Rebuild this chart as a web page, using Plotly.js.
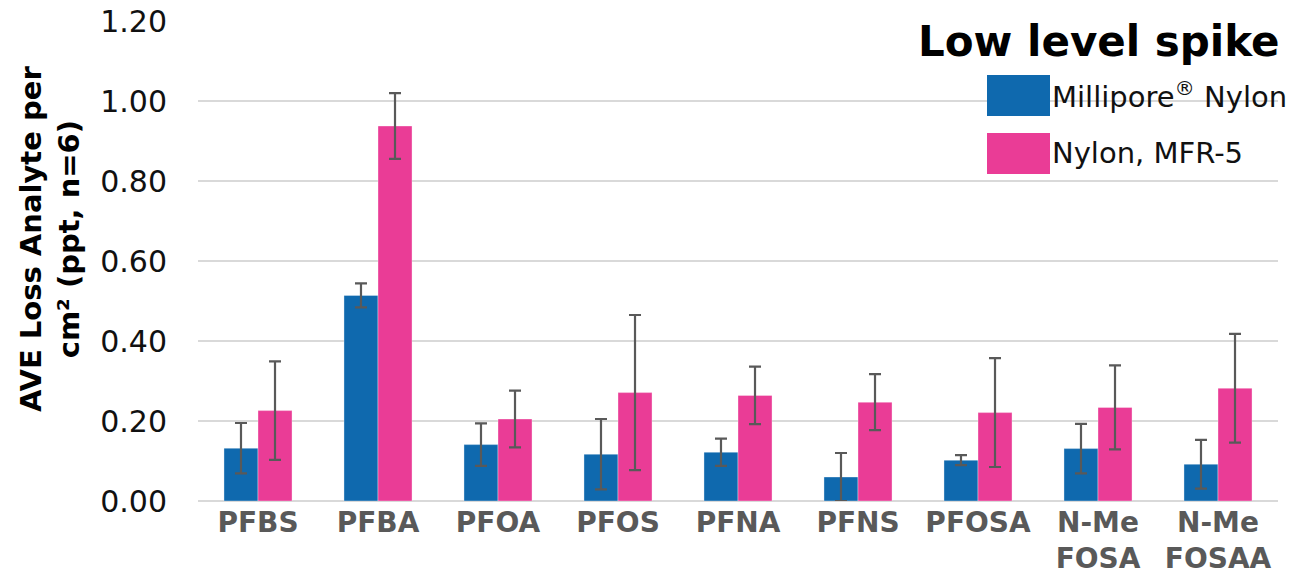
<!DOCTYPE html>
<html>
<head>
<meta charset="utf-8">
<script src="https://cdn.plot.ly/plotly-3.0.1.min.js"></script>
<style>
  html, body { margin: 0; padding: 0; background: #fff; }
  #chart { width: 1291px; height: 574px; }
</style>
</head>
<body>
<div id="chart"></div>
<script>
// Average analyte loss per cm² of filter, low level spike (n=6), with standard deviations
const analytes = ['PFBS', 'PFBA', 'PFOA', 'PFOS', 'PFNA', 'PFNS', 'PFOSA', 'N-Me<br>FOSA', 'N-Me<br>FOSAA'];
const milliporeNylon   = [0.132, 0.514, 0.141, 0.117, 0.122, 0.060, 0.102, 0.131, 0.092];
const milliporeNylonSD = [0.063, 0.030, 0.053, 0.088, 0.034, 0.060, 0.0125, 0.062, 0.061];
const nylonMFR5        = [0.226, 0.9375, 0.205, 0.271, 0.264, 0.247, 0.221, 0.234, 0.282];
const nylonMFR5SD      = [0.123, 0.082, 0.071, 0.194, 0.072, 0.070, 0.136, 0.105, 0.136];
const seriesNames = ['Millipore<sup>®</sup> Nylon', 'Nylon, MFR-5'];
const chartTitle = 'Low level spike';
const yTitle = 'AVE Loss Analyte per<br>cm² (ppt, n=6)';

const BLUE = '#0f69ae';
const PINK = '#ea3c96';
const ERR = '#595959';
const FONT = 'DejaVu Sans, Verdana, sans-serif';

// plot-area geometry in pixels
const W = 1291, H = 574;
const M = { l: 198, r: 13, t: 21, b: 73 };
const PW = W - M.l - M.r, PH = H - M.t - M.b;
const px = x => (x - M.l) / PW;          // pixel x -> paper x
const py = y => (H - M.b - y) / PH;      // pixel y -> paper y

function barTrace(name, values, sd, color) {
  return {
    type: 'bar',
    name: name,
    x: analytes,
    y: values,
    marker: { color: color, line: { color: 'rgba(255,255,255,0.35)', width: 1 } },
    error_y: { type: 'data', array: sd, visible: true, color: ERR, thickness: 2.2, width: 6 },
    hoverinfo: 'skip'
  };
}

const traces = [
  barTrace(seriesNames[0], milliporeNylon, milliporeNylonSD, BLUE),
  barTrace(seriesNames[1], nylonMFR5, nylonMFR5SD, PINK)
];

// legend drawn as swatches + labels
const swatches = [
  { y0: 75, y1: 116, color: BLUE, label: seriesNames[0] },
  { y0: 133, y1: 174, color: PINK, label: seriesNames[1] }
];
const shapes = swatches.map(s => ({
  type: 'rect', xref: 'paper', yref: 'paper',
  x0: px(987), x1: px(1050), y0: py(s.y1), y1: py(s.y0),
  fillcolor: s.color, line: { width: 0 }, layer: 'above'
}));
const annotations = swatches.map(s => ({
  xref: 'paper', yref: 'paper', x: px(1050), y: py((s.y0 + s.y1) / 2),
  xanchor: 'left', yanchor: 'middle', showarrow: false,
  text: s.label, font: { family: FONT, size: 29, color: '#111' }
}));
annotations.push({
  xref: 'paper', yref: 'paper', x: px(1282), y: py(42),
  xanchor: 'right', yanchor: 'middle', showarrow: false,
  text: chartTitle, font: { family: FONT, size: 42, color: '#000', weight: 700 }
});
annotations.push({
  xref: 'paper', yref: 'paper', x: px(50), y: py(239),
  xanchor: 'center', yanchor: 'middle', showarrow: false, textangle: -90,
  text: yTitle, font: { family: FONT, size: 29, color: '#000', weight: 700 }
});

const layout = {
  width: W, height: H,
  margin: M,
  paper_bgcolor: '#fff', plot_bgcolor: '#fff',
  font: { family: FONT },
  showlegend: false,
  barmode: 'group',
  bargap: 0.433,
  bargroupgap: 0,
  xaxis: {
    type: 'category',
    showgrid: false, showline: false, zeroline: false, ticks: '',
    tickfont: { family: FONT, size: 28, color: '#595959', weight: 700 },
    ticklabelstandoff: 2
  },
  yaxis: {
    range: [0, 1.2], dtick: 0.2, tickformat: '.2f',
    showgrid: true, gridcolor: '#d9d9d9', gridwidth: 2,
    zeroline: true, zerolinecolor: '#d9d9d9', zerolinewidth: 2,
    showline: false, ticks: '',
    tickfont: { family: FONT, size: 30, color: '#111' },
    ticklabelstandoff: 30
  },
  shapes: shapes,
  annotations: annotations
};

Plotly.newPlot('chart', traces, layout, { staticPlot: true, displayModeBar: false });
</script>
</body>
</html>
